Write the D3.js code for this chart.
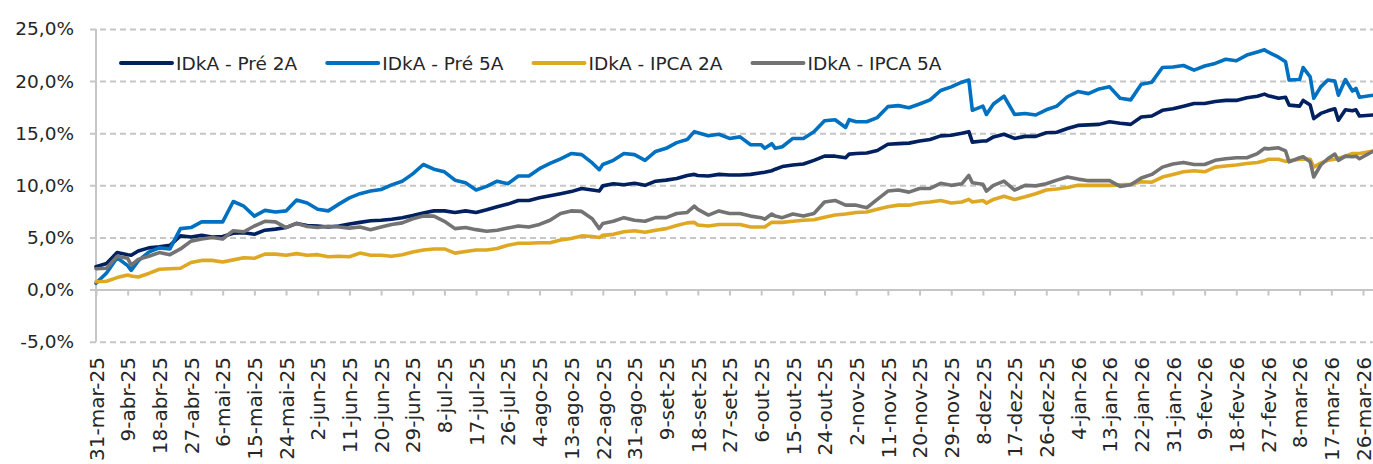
<!DOCTYPE html>
<html>
<head>
<meta charset="utf-8">
<script src="https://cdn.jsdelivr.net/npm/d3@7"></script>
<style>
  body { margin: 0; background: #fff; }
  svg { display: block; font-family: "DejaVu Sans", sans-serif; }
</style>
</head>
<body>
<div id="chart"></div>
<script>
// IDkA - retorno acumulado desde 31-mar-25
var svgWidth = 1373;
var svgHeight = 464;

// days after 31-mar-25 for each observation
var dias = [
  0, 3, 6, 9, 10, 12, 15, 18, 21, 24, 27, 30, 33, 36, 39, 42, 45, 48, 51, 54, 57, 60,
  63, 66, 69, 72, 75, 78, 81, 84, 87, 90, 93, 96, 99, 102, 105, 108, 111, 114, 117, 120,
  123, 126, 129, 132, 135, 138, 141, 143, 144, 147, 150, 153, 156, 159, 162, 165, 168, 170, 171, 174, 177, 180,
  183, 186, 189, 190, 192, 193, 195, 198, 201, 204, 207, 210, 213, 214, 216, 219, 222, 225, 228, 231, 234, 237, 240,
  243, 246, 248, 249, 252, 253, 255, 258, 261, 264, 267, 270, 273, 276, 279, 282, 285, 288, 291, 294, 297, 300,
  303, 306, 309, 312, 315, 318, 321, 324, 327, 330, 332, 333, 336, 338, 339, 342, 343, 345, 346, 348, 350, 352, 353, 355, 357, 358, 359, 363
];

var pre2A = [
  2.2, 2.5, 3.55, 3.35, 3.3, 3.7, 4.0, 4.1, 4.25, 5.15, 5.05, 5.2, 5.05, 5.1, 5.4, 5.45, 5.3, 5.7, 5.8, 5.95, 6.35, 6.15,
  6.1, 6.0, 6.1, 6.3, 6.45, 6.6, 6.65, 6.75, 6.9, 7.1, 7.35, 7.55, 7.55, 7.4, 7.55, 7.4, 7.65, 7.95, 8.2, 8.55,
  8.55, 8.8, 9.0, 9.2, 9.4, 9.7, 9.55, 9.45, 9.95, 10.15, 10.05, 10.2, 10.0, 10.4, 10.5, 10.65, 10.95, 11.05, 10.95, 10.9, 11.05, 11.0,
  11.0, 11.05, 11.2, 11.25, 11.4, 11.55, 11.8, 11.95, 12.05, 12.4, 12.8, 12.8, 12.65, 13.0, 13.05, 13.1, 13.35, 13.95, 14.0, 14.05, 14.25, 14.4, 14.75,
  14.8, 15.0, 15.15, 14.15, 14.25, 14.25, 14.65, 14.9, 14.5, 14.7, 14.7, 15.05, 15.1, 15.45, 15.75, 15.8, 15.85, 16.1, 15.95, 15.85, 16.55, 16.65,
  17.2, 17.35, 17.6, 17.85, 17.85, 18.05, 18.15, 18.15, 18.4, 18.55, 18.75, 18.6, 18.35, 18.45, 17.7, 17.6, 18.15, 17.7, 16.4, 16.9, 17.15, 17.35, 16.25, 17.25, 17.15, 17.25, 16.65, 16.75
];

var pre5A = [
  0.6, 1.6, 3.05, 2.3, 1.85, 2.75, 3.6, 4.0, 3.9, 5.85, 5.95, 6.5, 6.5, 6.5, 8.45, 8.0, 7.05, 7.6, 7.45, 7.55, 8.6, 8.3,
  7.7, 7.55, 8.2, 8.8, 9.2, 9.45, 9.6, 10.05, 10.4, 11.1, 12.0, 11.55, 11.3, 10.5, 10.25, 9.55, 9.9, 10.4, 10.15, 10.9,
  10.9, 11.6, 12.1, 12.55, 13.05, 12.95, 12.15, 11.5, 12.0, 12.4, 13.05, 12.95, 12.4, 13.25, 13.55, 14.1, 14.4, 15.15, 15.05, 14.75, 14.9, 14.5,
  14.65, 13.9, 13.9, 13.55, 14.0, 13.55, 13.7, 14.5, 14.5, 15.15, 16.2, 16.3, 15.55, 16.3, 16.1, 16.1, 16.5, 17.55, 17.65, 17.45, 17.8, 18.2, 19.1,
  19.45, 19.9, 20.1, 17.2, 17.6, 16.8, 17.8, 18.55, 16.8, 16.9, 16.75, 17.25, 17.6, 18.5, 19.0, 18.8, 19.25, 19.45, 18.35, 18.2, 19.7, 19.9,
  21.3, 21.35, 21.5, 21.05, 21.45, 21.7, 22.1, 21.95, 22.5, 22.8, 23.0, 22.8, 22.3, 21.85, 20.1, 20.15, 21.3, 20.4, 18.35, 19.45, 20.1, 20.0, 18.65, 20.15, 19.05, 19.3, 18.45, 18.65
];

var ipca2A = [
  0.75, 0.8, 1.15, 1.4, 1.3, 1.2, 1.55, 1.95, 2.0, 2.05, 2.6, 2.8, 2.8, 2.65, 2.85, 3.05, 3.0, 3.4, 3.4, 3.3, 3.45, 3.3,
  3.35, 3.15, 3.2, 3.15, 3.5, 3.3, 3.3, 3.2, 3.35, 3.6, 3.8, 3.9, 3.9, 3.5, 3.65, 3.8, 3.8, 3.95, 4.25, 4.45,
  4.45, 4.5, 4.5, 4.75, 4.9, 5.15, 5.1, 5.0, 5.2, 5.3, 5.55, 5.65, 5.5, 5.7, 5.85, 6.15, 6.4, 6.45, 6.2, 6.1, 6.25, 6.25,
  6.25, 6.0, 6.0, 6.0, 6.45, 6.45, 6.45, 6.55, 6.65, 6.7, 6.95, 7.15, 7.25, 7.3, 7.4, 7.45, 7.7, 7.95, 8.1, 8.1, 8.3, 8.4, 8.55,
  8.3, 8.4, 8.65, 8.4, 8.55, 8.3, 8.65, 8.95, 8.65, 8.9, 9.2, 9.55, 9.65, 9.8, 10.0, 10.0, 10.0, 10.0, 10.05, 10.1, 10.35, 10.3,
  10.8, 11.05, 11.3, 11.4, 11.3, 11.75, 11.85, 11.95, 12.1, 12.2, 12.35, 12.5, 12.5, 12.3, 12.35, 12.5, 12.5, 12.5, 11.75, 12.15, 12.4, 12.5, 12.6, 12.8, 13.05, 13.05, 13.05, 13.3
];

var ipca5A = [
  2.0, 2.05, 3.2, 3.0, 2.35, 2.9, 3.2, 3.55, 3.35, 3.9, 4.65, 4.85, 5.0, 4.85, 5.65, 5.55, 6.1, 6.55, 6.5, 5.95, 6.35, 6.05,
  5.95, 6.08, 6.0, 5.9, 6.0, 5.75, 6.0, 6.25, 6.4, 6.8, 7.07, 7.05, 6.55, 5.85, 5.95, 5.75, 5.6, 5.7, 5.9, 6.1,
  6.0, 6.25, 6.65, 7.3, 7.55, 7.5, 6.8, 5.85, 6.35, 6.55, 6.9, 6.65, 6.55, 6.9, 6.9, 7.3, 7.4, 8.0, 7.7, 7.15, 7.55, 7.3,
  7.3, 7.05, 6.9, 6.75, 7.25, 7.05, 6.9, 7.25, 7.05, 7.3, 8.4, 8.55, 8.1, 8.1, 8.1, 7.85, 8.65, 9.45, 9.55, 9.35, 9.7, 9.7, 10.2,
  10.0, 10.15, 10.95, 10.25, 10.1, 9.45, 10.0, 10.4, 9.55, 10.0, 9.95, 10.15, 10.5, 10.8, 10.6, 10.45, 10.45, 10.45, 9.9, 10.05, 10.7, 11.05,
  11.75, 12.05, 12.2, 12.0, 12.0, 12.4, 12.55, 12.65, 12.65, 13.05, 13.55, 13.5, 13.6, 13.3, 12.25, 12.65, 12.75, 12.25, 10.8, 11.95, 12.55, 13.0, 12.4, 12.8, 12.75, 12.8, 12.55, 13.3
];

var seriesNames = ["IDkA - Pré 2A", "IDkA - Pré 5A", "IDkA - IPCA 2A", "IDkA - IPCA 5A"];
var seriesValues = [pre2A, pre5A, ipca2A, ipca5A];
var seriesColors = ["#002060", "#0070c0", "#dea823", "#737373"];

var yTicks = [-5, 0, 5, 10, 15, 20, 25];
var meses = ["jan", "fev", "mar", "abr", "mai", "jun", "jul", "ago", "set", "out", "nov", "dez"];
var tickStep = 9; // a label every 9 days

var inicio = new Date(2025, 2, 31);

var svg = d3.select("#chart")
  .append("svg")
  .attr("width", svgWidth)
  .attr("height", svgHeight);

var xScale = d3.scaleTime()
  .domain([inicio, d3.timeDay.offset(inicio, 360)])
  .range([96, 1363]);

var yScale = d3.scaleLinear()
  .domain([-5, 25])
  .range([341.7, 29]);

var ptBR = d3.formatLocale({ decimal: ",", thousands: ".", grouping: [3], currency: ["R$", ""], minus: "-" });
var pct = ptBR.format(".1f");

// horizontal grid + y labels
var gridLeft = 90;
var yAxis = svg.append("g")
  .attr("transform", `translate(${gridLeft},0)`)
  .call(d3.axisLeft(yScale)
    .tickValues(yTicks)
    .tickSize(-(svgWidth - gridLeft))
    .tickPadding(16)
    .tickFormat(d => pct(d) + "%"));

yAxis.select(".domain").remove();
yAxis.selectAll(".tick line")
  .attr("stroke", "#c6c6c6")
  .attr("stroke-width", 2)
  .attr("stroke-dasharray", d => d === 0 ? null : "6,4");
yAxis.selectAll(".tick text")
  .attr("font-size", "18.5px")
  .attr("fill", "#262626")
  .attr("font-family", "DejaVu Sans, sans-serif");

// x axis at 0%
var tickDates = d3.range(0, 361, tickStep).map(d => d3.timeDay.offset(inicio, d));
var fmtDate = d => `${d.getDate()}-${meses[d.getMonth()]}-${String(d.getFullYear()).slice(2)}`;

var xAxis = svg.append("g")
  .attr("transform", `translate(0,${yScale(0)})`)
  .call(d3.axisBottom(xScale)
    .tickValues(tickDates)
    .tickSize(6)
    .tickFormat(fmtDate));

xAxis.select(".domain").remove();
xAxis.selectAll(".tick line")
  .attr("stroke", "#c6c6c6")
  .attr("stroke-width", 2);
xAxis.selectAll(".tick text")
  .attr("transform", "rotate(-90)")
  .attr("x", -(357 - yScale(0)))
  .attr("y", 0)
  .attr("dy", "0.36em")
  .style("text-anchor", "end")
  .attr("font-size", "20px")
  .attr("fill", "#262626")
  .attr("font-family", "DejaVu Sans, sans-serif");

// vertical axis line
svg.append("line")
  .attr("x1", 96).attr("x2", 96)
  .attr("y1", yScale(25)).attr("y2", yScale(-5))
  .attr("stroke", "#c6c6c6")
  .attr("stroke-width", 2);

// lines
var line = d3.line()
  .x((d, i) => xScale(d3.timeDay.offset(inicio, dias[i])))
  .y(d => yScale(d));

svg.append("g")
  .selectAll("path")
  .data(seriesValues)
  .enter()
  .append("path")
  .attr("d", d => line(d))
  .attr("fill", "none")
  .attr("stroke", (d, i) => seriesColors[i])
  .attr("stroke-width", 3.6)
  .attr("stroke-linejoin", "round")
  .attr("stroke-linecap", "round");

// legend
var legend = svg.append("g").attr("transform", "translate(121,63)");
var lx = 0;
seriesNames.forEach(function(name, i) {
  var item = legend.append("g").attr("transform", `translate(${lx},0)`);
  item.append("line")
    .attr("x1", 0).attr("x2", 51)
    .attr("y1", 0).attr("y2", 0)
    .attr("stroke", seriesColors[i])
    .attr("stroke-width", 4)
    .attr("stroke-linecap", "round");
  var t = item.append("text")
    .attr("x", 55)
    .attr("y", 0)
    .attr("dy", "0.36em")
    .attr("font-size", "18.5px")
    .attr("fill", "#262626")
    .text(name);
  lx += 55 + t.node().getComputedTextLength() + 30;
});
</script>
</body>
</html>
